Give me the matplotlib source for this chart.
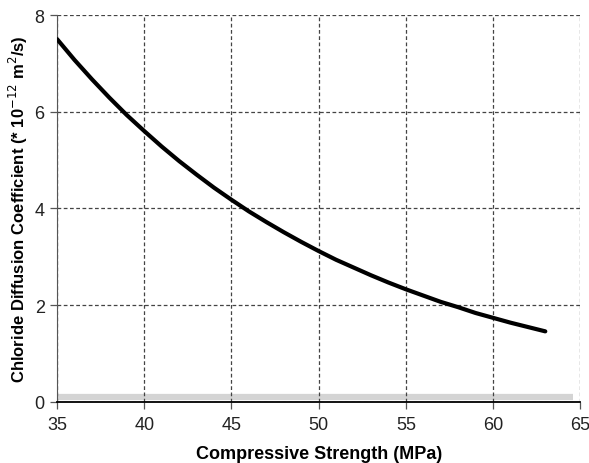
import numpy as np
import matplotlib.pyplot as plt

plt.rcParams['font.family'] = ['Liberation Sans', 'DejaVu Sans']

# values
strength = [35, 36, 37, 38, 39, 40, 41, 42, 43, 44, 45, 46, 47, 48, 49,
            50, 51, 52, 53, 54, 55, 56, 57, 58, 59, 60, 61, 62, 63]
diffusion = [7.50, 7.07, 6.67, 6.29, 5.93, 5.60, 5.28, 4.98, 4.70, 4.43,
             4.18, 3.94, 3.72, 3.51, 3.31, 3.12, 2.94, 2.78, 2.62, 2.47,
             2.33, 2.20, 2.07, 1.96, 1.84, 1.74, 1.64, 1.55, 1.46]

# faint grey band near zero
band_x = [35, 64.6]
band_y = [0.1, 0.1]

xticks = [35, 40, 45, 50, 55, 60, 65]
yticks = [0, 2, 4, 6, 8]

fig = plt.figure(figsize=(5.89, 4.64), dpi=100)
ax = fig.add_axes([0.097, 0.1315, 0.888, 0.834])

ax.plot(band_x, band_y, color='#d4d4d4', lw=4.5, solid_capstyle='butt', zorder=1)
ax.plot(strength, diffusion, color='black', lw=3, solid_capstyle='round',
        solid_joinstyle='round', zorder=3)

ax.set_xlim(35, 65)
ax.set_ylim(0, 8)
ax.set_xticks(xticks)
ax.set_yticks(yticks)
ax.grid(True, color='#444444', linestyle=(0, (3, 2)), linewidth=0.9)

for s in ['top', 'right']:
    ax.spines[s].set_visible(False)
ax.spines['left'].set_color('#555555')
ax.spines['bottom'].set_color('black')
ax.spines['bottom'].set_linewidth(1.3)

ax.tick_params(axis='both', direction='out', length=5, width=0.9, color='#555555',
               labelsize=13)
ax.tick_params(axis='y', pad=4)
ax.tick_params(axis='x', pad=5)
for lab in ax.get_xticklabels() + ax.get_yticklabels():
    lab.set_color('#222222')

ax.set_xlabel('Compressive Strength (MPa)', fontsize=13, fontweight='bold', labelpad=9)
ax.set_ylabel('Chloride Diffusion Coefficient (* 10$^{-12}$ m$^2$/s)', fontsize=12,
              fontweight='bold', labelpad=3)

fig.savefig('out.png', dpi=100)
